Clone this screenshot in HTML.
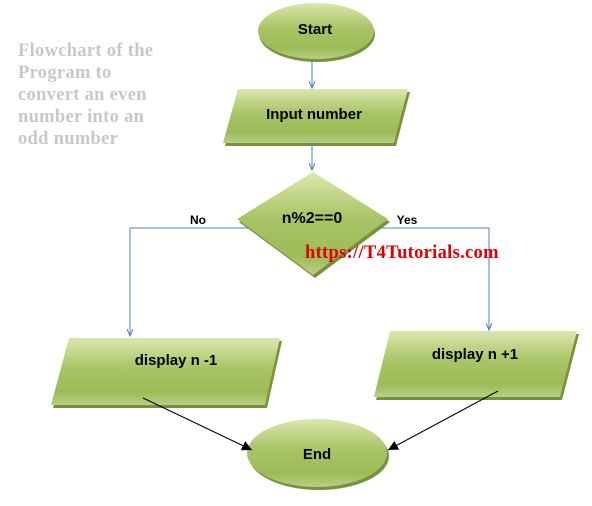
<!DOCTYPE html>
<html><head><style>
html,body{margin:0;padding:0;background:#fff;}
svg{display:block;}
</style></head><body>
<svg width="592" height="506" viewBox="0 0 592 506" xmlns="http://www.w3.org/2000/svg">
<defs>
<linearGradient id="g" x1="0" y1="0" x2="0" y2="1">
<stop offset="0" stop-color="#dbe7ae"/>
<stop offset="0.45" stop-color="#a9c466"/>
<stop offset="0.8" stop-color="#9cbb58"/>
<stop offset="1" stop-color="#b8cf85"/>
</linearGradient>
<marker id="ab" markerWidth="8" markerHeight="8" refX="7" refY="4" orient="auto" markerUnits="userSpaceOnUse"><path d="M0,1 L7,4 L0,7" fill="none" stroke="#4f81bd" stroke-width="1"/></marker>
<marker id="ak" markerWidth="12" markerHeight="10" refX="10" refY="5" orient="auto" markerUnits="userSpaceOnUse"><path d="M0,0 L10,5 L0,10 z" fill="#000"/></marker>
</defs>
<g font-family="'Liberation Serif',serif" font-weight="bold" font-size="18.5" fill="#c8c8c8" letter-spacing="0.3">
<text x="18" y="56">Flowchart of the</text>
<text x="18" y="78">Program to</text>
<text x="18" y="100">convert an even</text>
<text x="18" y="122">number into an</text>
<text x="18" y="144">odd number</text>
</g>
<g fill="#76923c">
<ellipse cx="317" cy="34" rx="58" ry="28"/>
<polygon points="240,92 410,92 396,146 225,146"/>
<polygon points="315,175 390,222 315,278 239,222"/>
<polygon points="71,341 282,341 267,408 53,408"/>
<polygon points="392,334 579,334 562,400 376,400"/>
<ellipse cx="319" cy="456" rx="70" ry="34"/>
</g>
<g fill="url(#g)">
<ellipse cx="316" cy="31" rx="58" ry="28"/>
<polygon points="238,89 408,89 394,143 223,143"/>
<polygon points="313,172 388,219 313,275 237,219"/>
<polygon points="69,338 280,338 265,405 51,405"/>
<polygon points="390,331 577,331 560,397 374,397"/>
<ellipse cx="317" cy="453" rx="70" ry="34"/>
</g>
<g stroke="#4f81bd" stroke-width="1" fill="none">
<line x1="312" y1="60" x2="312" y2="88" marker-end="url(#ab)"/>
<line x1="312" y1="143" x2="312" y2="170" marker-end="url(#ab)"/>
<polyline points="248,228 130,228 130,336" marker-end="url(#ab)"/>
<polyline points="380,228 489,228 489,330" marker-end="url(#ab)"/>
</g>
<g stroke="#000" stroke-width="1">
<line x1="143" y1="398" x2="252" y2="450" marker-end="url(#ak)"/>
<line x1="498" y1="391" x2="388" y2="450" marker-end="url(#ak)"/>
</g>
<g font-family="'Liberation Sans',sans-serif" font-weight="bold" fill="#000" text-anchor="middle">
<text x="315" y="34" font-size="15">Start</text>
<text x="314" y="119" font-size="15">Input number</text>
<text x="312" y="223" font-size="16">n%2==0</text>
<text x="176" y="365" font-size="15">display  n -1</text>
<text x="475" y="359" font-size="15">display  n +1</text>
<text x="317" y="459" font-size="15">End</text>
<text x="198" y="224" font-size="12">No</text>
<text x="407" y="224" font-size="12">Yes</text>
</g>
<text x="305" y="258" font-family="'Liberation Serif',serif" font-weight="bold" font-size="18.5" fill="#e00000" letter-spacing="0.3">https://T4Tutorials.com</text>
</svg>
</body></html>
